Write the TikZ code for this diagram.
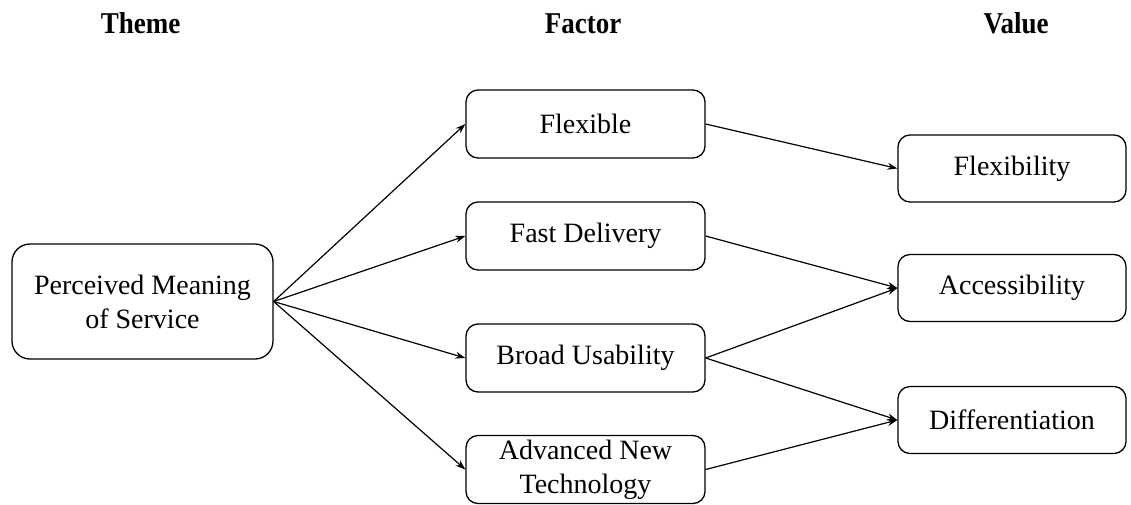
\documentclass[tikz,border=0pt]{standalone}
\usepackage{fontspec}
\setmainfont{Liberation Serif}
\usetikzlibrary{arrows.meta}
\newcommand{\tallhead}[1]{\scalebox{1}[1.12]{#1}}
\begin{document}
\begin{tikzpicture}[x=1pt,y=-1pt,
  header/.style={font=\fontsize{27}{30}\selectfont\bfseries, inner sep=0pt, anchor=base},
  box/.style={draw, line width=1.3pt, rounded corners=12pt, inner sep=0pt,
    align=center, font=\fontsize{28}{34}\selectfont},
  factorbox/.style={box, minimum width=239pt, minimum height=68pt},
  valuebox/.style={box, minimum width=228pt, minimum height=67pt},
  link/.style={line width=1.2pt, -{Stealth[length=10pt,width=7pt]}}
]
\useasboundingbox (0,0) rectangle (1131,504);

% column headers
\node[header] (hTheme) at (140.5,33) {\tallhead{Theme}};
\node[header] (hFactor) at (583,33) {\tallhead{Factor}};
\node[header] (hValue) at (1016,33) {\tallhead{Value}};

% theme
\node[box, rounded corners=18pt, minimum width=261pt, minimum height=115pt]
  (theme) at (142.5,301.5) {Perceived Meaning\\of Service};

% factors
\node[factorbox] (flex)  at (585.5,124) {Flexible};
\node[factorbox] (fast)  at (585.5,236) {Fast Delivery};
\node[factorbox] (broad) at (585.5,358) {Broad Usability};
\node[factorbox] (adv)   at (585.5,469.5) {Advanced New\\Technology};

% values
\node[valuebox] (vflex) at (1012,168.5) {Flexibility};
\node[valuebox] (vacc)  at (1012,288) {Accessibility};
\node[valuebox] (vdiff) at (1012,420) {Differentiation};

% theme -> factors
\draw[link] (theme.east) -- (flex.west);
\draw[link] (theme.east) -- (fast.west);
\draw[link] (theme.east) -- (broad.west);
\draw[link] (theme.east) -- (adv.west);

% factors -> values
\draw[link] (flex.east)  -- (vflex.west);
\draw[link] (fast.east)  -- (vacc.west);
\draw[link] (broad.east) -- (vacc.west);
\draw[link] (broad.east) -- (vdiff.west);
\draw[link] (adv.east)   -- (vdiff.west);
\end{tikzpicture}
\end{document}
